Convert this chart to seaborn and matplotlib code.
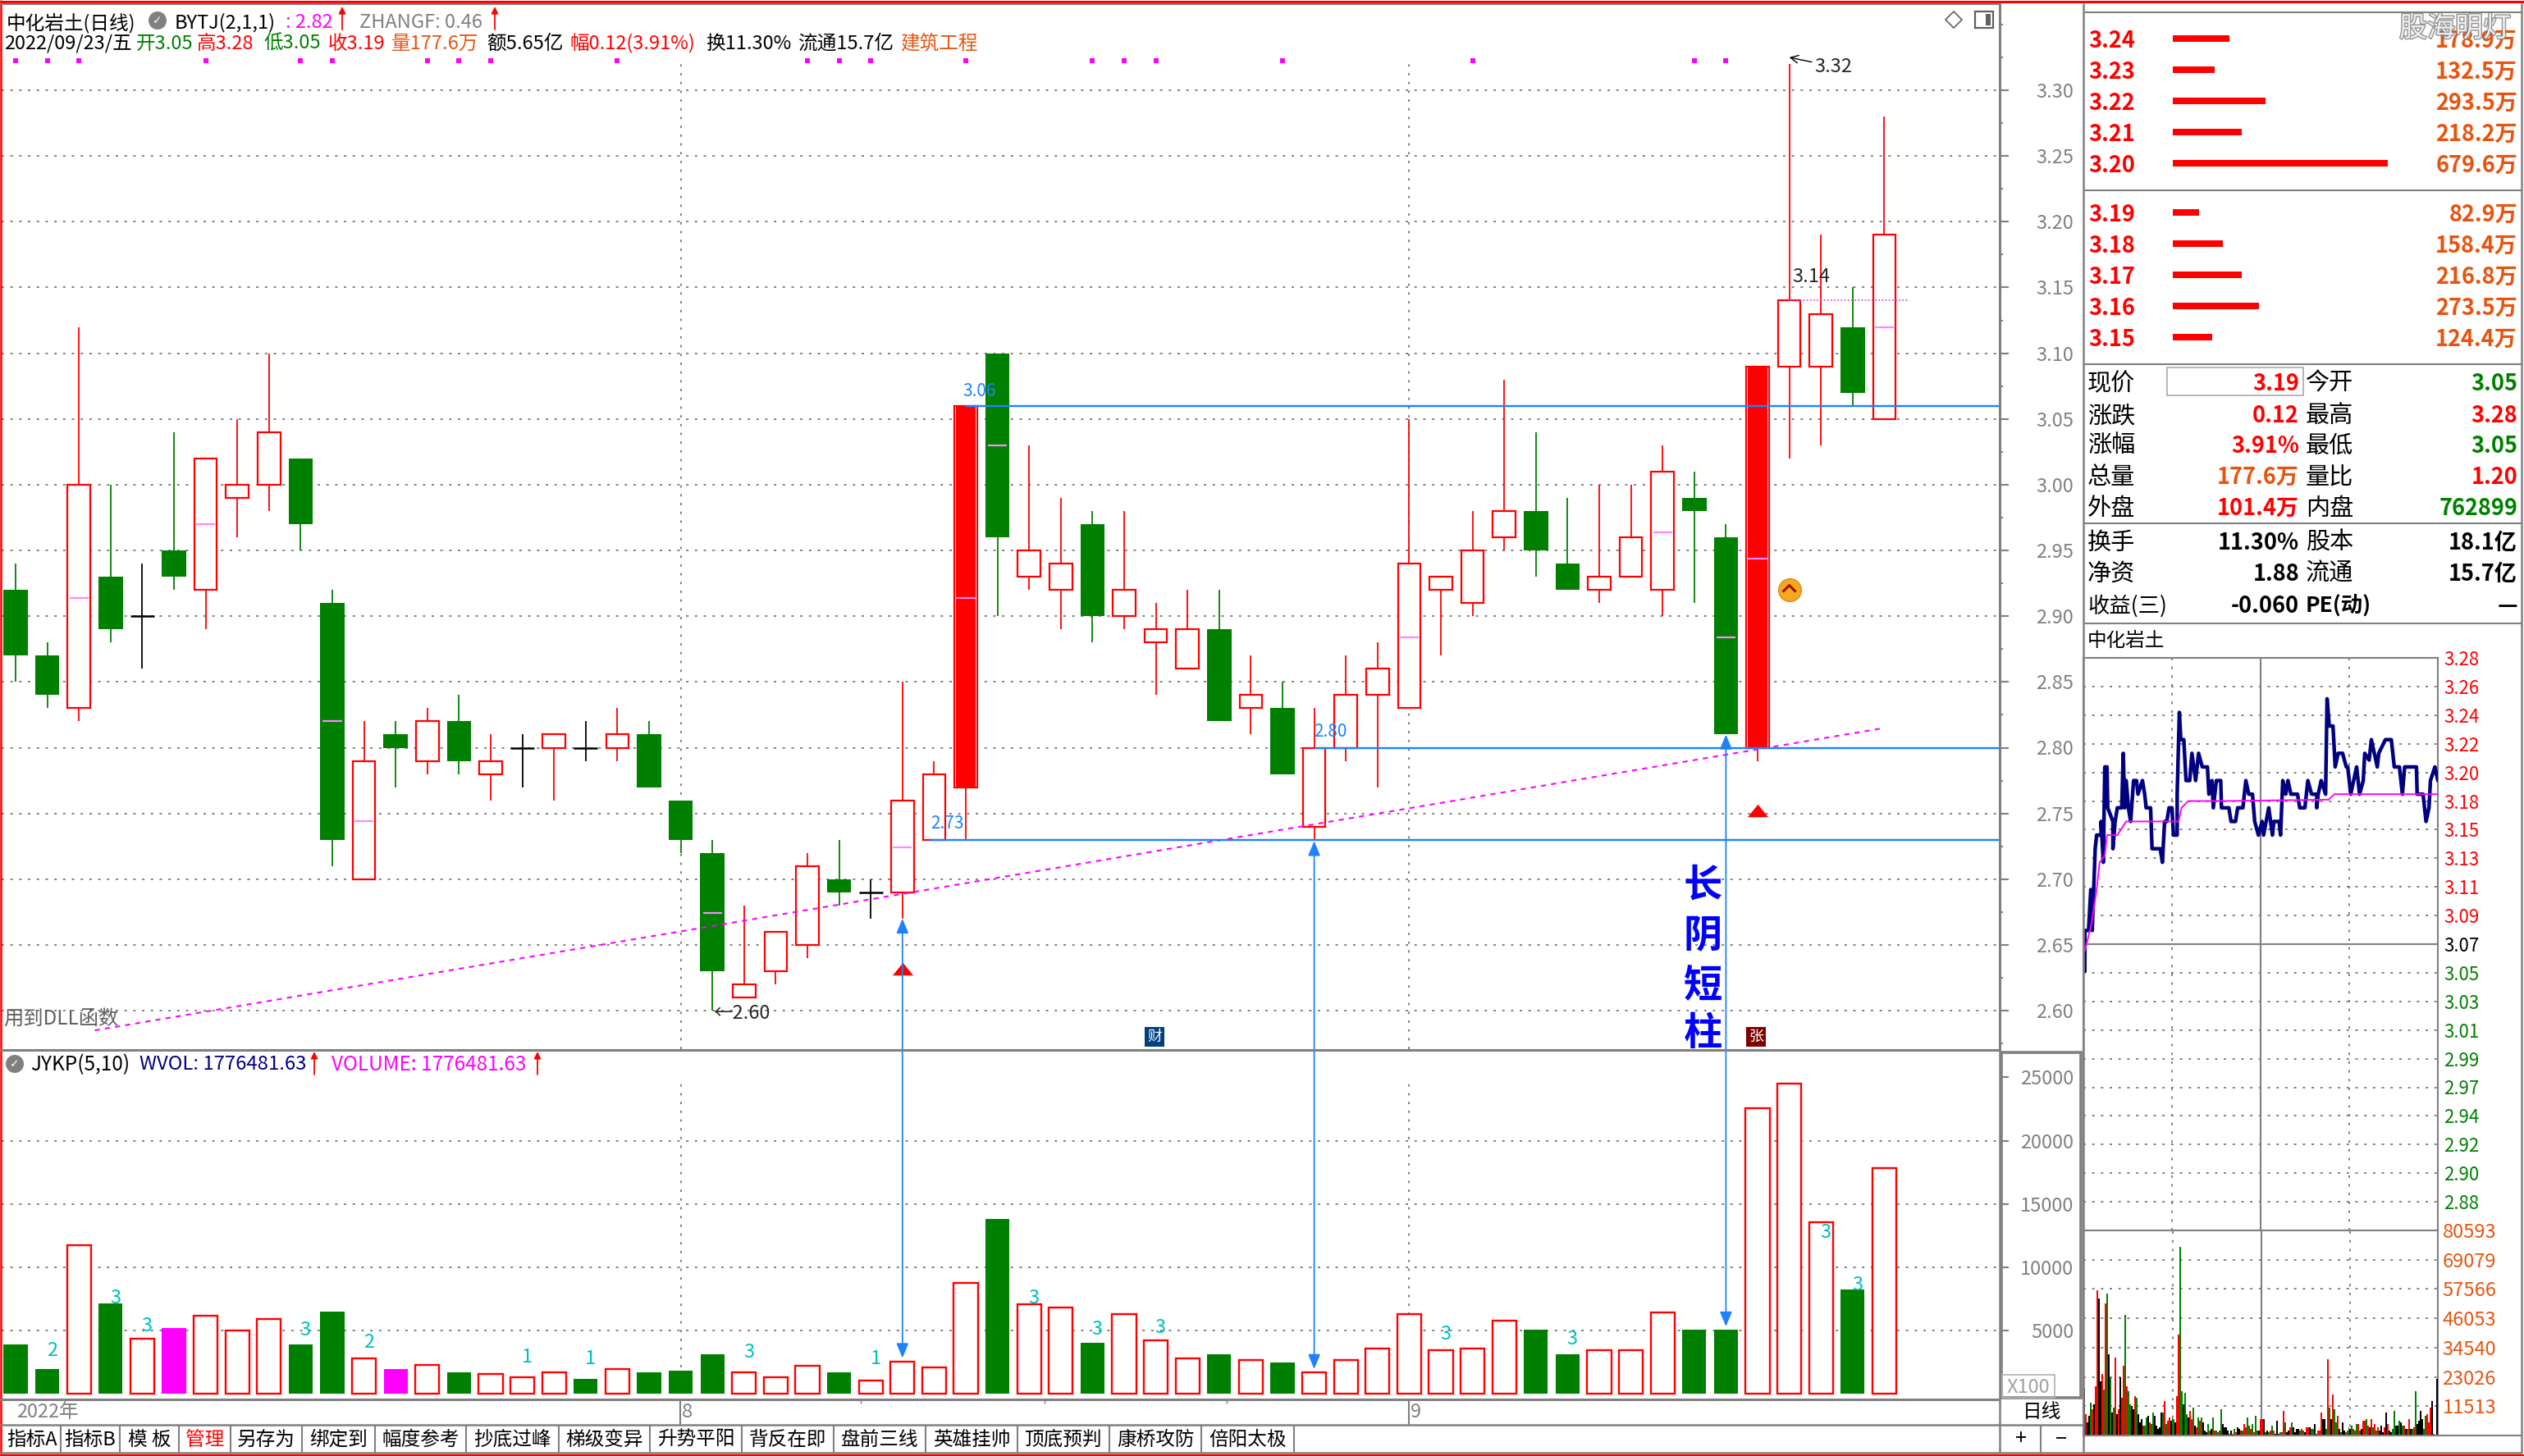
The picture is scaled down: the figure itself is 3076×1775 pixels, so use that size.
import numpy as np
import pandas as pd
import matplotlib
matplotlib.use('Agg')
import matplotlib.pyplot as plt
from matplotlib.patches import ConnectionPatch, Rectangle, Circle, Polygon
from matplotlib.path import Path
from matplotlib.ticker import MultipleLocator
import matplotlib.patheffects as pe
import seaborn as sns

sns.set_style('white')
plt.rcParams['font.family'] = ['Noto Sans CJK SC', 'DejaVu Sans']
plt.rcParams['axes.unicode_minus'] = False

W, H = 3076, 1775
RED, GREEN, ORANGE, GREY = '#ff0000', '#008000', '#e8540f', '#808080'
BLUE, MAG, PINK, NAVY = '#1e82ff', '#ff00ff', '#ff88ff', '#000080'

# daily candles
opens = [2.92, 2.87, 2.83, 2.93, 2.90, 2.95, 2.92, 2.99, 3.00, 3.02, 2.91, 2.70, 2.81, 2.79, 2.82,
         2.78, 2.80, 2.80, 2.80, 2.80, 2.81, 2.76, 2.72, 2.61, 2.63, 2.65, 2.70, 2.69, 2.69, 2.73,
         2.77, 3.10, 2.93, 2.92, 2.97, 2.90, 2.88, 2.86, 2.89, 2.83, 2.83, 2.74, 2.80, 2.84, 2.83,
         2.92, 2.91, 2.96, 2.98, 2.94, 2.92, 2.93, 2.92, 2.99, 2.96, 2.80, 3.09, 3.09, 3.12, 3.05]
highs = [2.94, 2.88, 3.12, 3.00, 2.94, 3.04, 3.02, 3.05, 3.10, 3.02, 2.92, 2.82, 2.82, 2.83, 2.84,
         2.81, 2.81, 2.81, 2.82, 2.83, 2.82, 2.76, 2.73, 2.68, 2.66, 2.72, 2.73, 2.70, 2.85, 2.79,
         3.06, 3.10, 3.03, 2.99, 2.98, 2.98, 2.91, 2.92, 2.92, 2.87, 2.85, 2.83, 2.87, 2.88, 3.05,
         2.93, 2.98, 3.08, 3.04, 2.99, 3.00, 3.00, 3.03, 3.01, 2.97, 3.09, 3.32, 3.19, 3.15, 3.28]
lows = [2.85, 2.83, 2.82, 2.88, 2.86, 2.92, 2.89, 2.96, 2.98, 2.95, 2.71, 2.70, 2.77, 2.78, 2.78,
        2.76, 2.77, 2.76, 2.79, 2.79, 2.77, 2.72, 2.60, 2.61, 2.62, 2.64, 2.68, 2.67, 2.67, 2.73,
        2.73, 2.90, 2.92, 2.89, 2.88, 2.89, 2.84, 2.86, 2.82, 2.81, 2.78, 2.73, 2.79, 2.77, 2.83,
        2.87, 2.90, 2.95, 2.93, 2.92, 2.91, 2.93, 2.90, 2.91, 2.81, 2.79, 3.02, 3.03, 3.06, 3.05]
closes = [2.87, 2.84, 3.00, 2.89, 2.90, 2.93, 3.02, 3.00, 3.04, 2.97, 2.73, 2.79, 2.80, 2.82, 2.79,
          2.79, 2.80, 2.81, 2.80, 2.81, 2.77, 2.73, 2.63, 2.62, 2.66, 2.71, 2.69, 2.69, 2.76, 2.78,
          3.06, 2.96, 2.95, 2.94, 2.90, 2.92, 2.89, 2.89, 2.82, 2.84, 2.78, 2.80, 2.84, 2.86, 2.94,
          2.93, 2.95, 2.98, 2.95, 2.92, 2.93, 2.96, 3.01, 2.98, 2.81, 3.09, 3.14, 3.13, 3.07, 3.19]
solid_days = [30, 55]
avg_days = [2, 6, 10, 11, 22, 28, 30, 31, 44, 52, 54, 55, 59]
avg_prices = [2.914, 2.97, 2.82, 2.744, 2.674, 2.724, 2.914, 3.03, 2.884, 2.964, 2.884, 2.944, 3.12]
signal_days = [0, 1, 2, 6, 9, 10, 13, 14, 15, 19, 25, 26, 27, 30, 34, 35, 36, 40, 46, 53, 54]
price_ticks = [2.60, 2.65, 2.70, 2.75, 2.80, 2.85, 2.90, 2.95, 3.00, 3.05, 3.10, 3.15, 3.20, 3.25, 3.30]

trend_x = [2.5, 59]
trend_y = [2.585, 2.815]
level_prices = [3.06, 2.80, 2.73]
level_start = [30, 41, 28.85]
level_text_x = [29.9, 41, 28.9]
level_text_y = [3.071, 2.812, 2.742]
month_days = [21, 44]
arrow_days = [28, 41, 54]
arrow_top = [2.67, 2.729, 2.81]
arrow_bottom = [2800, 1930, 5300]
triangle_days = [28, 55]
triangle_prices = [2.632, 2.752]

# daily volume
volumes = [3858, 1918, 11724, 7090, 4353, 5151, 6164, 4978, 5905, 3858, 6444, 2802, 1918, 2284, 1660,
           1509, 1250, 1638, 1142, 1897, 1660, 1789, 3082, 1638, 1250, 2155, 1660, 991, 2543, 2026,
           8750, 13815, 7069, 6810, 3987, 6293, 4224, 2802, 3082, 2672, 2435, 1638, 2672, 3578, 6293,
           3448, 3578, 5776, 5021, 3082, 3448, 3448, 6422, 5021, 5021, 22586, 24526, 13534, 8254, 17802]
volume_kind = list('ddudumuuuddumuduuududdduuuduuuu' 'duuduuududuuuuuuudduuudduuudu')
count_days = [1, 3, 4, 9, 11, 16, 18, 23, 27, 32, 34, 36, 45, 49, 57, 58]
count_text = ['2', '3', '3', '3', '2', '1', '1', '3', '1', '3', '3', '3', '3', '3', '3', '3']
count_y = [3405, 7565, 5366, 4978, 4052, 2888, 2759, 3254, 2759, 7565, 5086, 5216, 4698, 4310, 12737, 8578]
vol_ticks = [5000, 10000, 15000, 20000, 25000]

# order book
ask_prices = ['3.24', '3.23', '3.22', '3.21', '3.20']
ask_sizes = [178.9, 132.5, 293.5, 218.2, 679.6]
bid_prices = ['3.19', '3.18', '3.17', '3.16', '3.15']
bid_sizes = [82.9, 158.4, 216.8, 273.5, 124.4]

# intraday
minutes = [1, 1, 3.5, 5, 6, 7, 8, 9, 12, 12, 13.5, 14.5, 16, 16.5, 20, 20, 21.5, 23, 26, 27, 28, 29, 30.5, 32,
           34, 36, 37, 40, 41.5, 42.5, 45.5, 46.5, 52, 53.5, 55, 56.5, 58, 60, 61, 63.5, 63.5, 65, 66, 68,
           69.5, 72, 73.5, 76, 78, 80.5, 84, 85, 87, 88, 90, 93, 93.5, 98.5, 100, 103, 104.5, 108, 110, 112,
           114.5, 116, 118.5, 121, 122, 125.5, 128, 129, 132.5, 133.5, 135, 137, 138.5, 140.5, 145, 146.5,
           150, 152, 154.5, 158, 158, 159, 161, 164, 165, 166.5, 169, 170.5, 172.5, 175.5, 178, 179, 181,
           185, 187, 189.5, 190.5, 193.5, 195, 199, 200, 204.5, 208.5, 210.5, 214, 216, 217.5, 225.5, 226,
           230, 232, 234, 235, 238, 240]
intraday_price = [3.05, 3.08, 3.08, 3.11, 3.08, 3.11, 3.14, 3.15, 3.15, 3.16, 3.13, 3.20, 3.20, 3.17, 3.16, 3.14,
                  3.16, 3.17, 3.17, 3.21, 3.17, 3.19, 3.17, 3.16, 3.19, 3.19, 3.18, 3.19, 3.18, 3.17, 3.17, 3.14,
                  3.14, 3.13, 3.16, 3.16, 3.17, 3.17, 3.15, 3.15, 3.18, 3.24, 3.22, 3.22, 3.19, 3.19, 3.21, 3.19,
                  3.21, 3.20, 3.20, 3.18, 3.19, 3.17, 3.19, 3.19, 3.17, 3.17, 3.16, 3.16, 3.17, 3.17, 3.19, 3.18,
                  3.18, 3.16, 3.15, 3.16, 3.15, 3.17, 3.15, 3.16, 3.16, 3.15, 3.19, 3.18, 3.19, 3.18, 3.18, 3.17,
                  3.17, 3.19, 3.18, 3.18, 3.17, 3.18, 3.19, 3.18, 3.25, 3.23, 3.23, 3.20, 3.21, 3.21, 3.20, 3.20,
                  3.18, 3.20, 3.18, 3.19, 3.21, 3.205, 3.22, 3.20, 3.21, 3.22, 3.22, 3.20, 3.20, 3.18, 3.20, 3.20,
                  3.18, 3.18, 3.16, 3.17, 3.19, 3.20, 3.19]
avg_minutes = [1, 5.5, 9, 11, 14.5, 16, 23, 29, 36, 64.5, 66.5, 71, 96.5, 166, 170, 189.5, 206, 240]
avg_line = [3.065, 3.085, 3.11, 3.13, 3.135, 3.15, 3.15, 3.16, 3.16, 3.16, 3.17, 3.175, 3.175, 3.176, 3.18, 3.18,
            3.18, 3.18]
intraday_labels = ['3.28', '3.26', '3.24', '3.22', '3.20', '3.18', '3.15', '3.13', '3.11', '3.09', '3.07',
                   '3.05', '3.03', '3.01', '2.99', '2.97', '2.94', '2.92', '2.90', '2.88']
tick_vol = [18560, 8320, 5120, 7680, 12800, 10240, 12160, 19200, 56960, 53760,
            21120, 24320, 17920, 51840, 55680, 32000, 23040, 8960, 10880, 30720,
            8320, 10240, 23040, 14720, 27520, 47360, 19200, 17280, 12160, 11520,
            10240, 15360, 14720, 8320, 5120, 6400, 3840, 3840, 7040, 7680,
            5120, 4480, 8960, 7680, 3840, 2560, 3200, 8960, 8960, 13440,
            4480, 5760, 7040, 5760, 7040, 6400, 5120, 15360, 39680, 74240,
            17280, 12160, 16640, 8320, 7040, 9600, 6400, 10880, 3840, 3200,
            7040, 5760, 7040, 5120, 1920, 1280, 4480, 1920, 2560, 7040,
            1920, 1920, 1280, 1920, 10240, 4480, 3200, 3200, 1920, 640,
            1920, 640, 2560, 1280, 3200, 2560, 1920, 1920, 4480, 3200,
            7040, 3840, 2560, 4480, 1280, 7680, 1920, 1920, 6400,
            6400, 6400, 1280, 1920, 1280, 1920, 3840, 1920, 640, 5760,
            640, 1280, 1280, 9600, 5120, 1280, 1920, 3200, 5120, 3200,
            1280, 2560, 2560, 1920, 2560, 1920, 1280, 3200, 3200, 3200,
            2560, 2560, 4480, 640, 1920, 1920, 8960, 6400, 6400, 2560,
            30080, 10880, 6400, 16000, 10240, 5120, 7680, 2560, 1280, 5120,
            1920, 1280, 1920, 3200, 2560, 3840, 2560, 1920, 4480, 4480,
            1920, 2560, 5760, 5760, 6400, 3840, 3200, 6400, 3200, 4480,
            1920, 3200, 1920, 3840, 1280, 3200, 8960, 4480, 1920, 1280,
            2560, 9600, 3840, 3840, 5760, 5120, 3840, 3840, 2560, 2560,
            6400, 2560, 2560, 3200, 17280, 4480, 5760, 9600, 6400, 2560,
            7680, 8320, 5120, 10880, 13440, 640, 0, 22400]
tick_side = list('krkkgrkrrk' 'krgrgkgkgr' 'krkrrgrggk' 'krgkkkrggk' 'rggkkkkkgr' 'grrkggkrrg' 'gkggkrrgkr'
                 'grgkkkgrkg' 'rgrggkkkkg' 'krgrkkrgrr' 'ggrgrggkr'
                 'rkgkgrgrkk' 'kgrrgkkrgk' 'kkkgrgkrrk' 'ggkgrrrkkg' 'rgkrggrkgk' 'krggkgrggr' 'gkrrgrkrgr'
                 'grkkkrkrkk' 'ggkkgkgrkg' 'rkgrgkkkkg' 'grrrkrkk')
iv_labels = ['11513', '23026', '34540', '46053', '57566', '69079', '80593']
iv_ticks = [11513, 23026, 34540, 46053, 57566, 69079, 80593]

tabs = ['指标A', '指标B', '模 板', '管理', '另存为', '绑定到', '幅度参考', '抄底过峰', '梯级变异', '升势平阳',
        '背反在即', '盘前三线', '英雄挂帅', '顶底预判', '康桥攻防', '倍阳太极']


def px_axes(x0, y0, x1, y1, **kw):
    return fig.add_axes([x0 / W, 1 - y1 / H, (x1 - x0) / W, (y1 - y0) / H], **kw)


def day_of(px):
    return (px - 19) / 38.6


fig = plt.figure(figsize=(W / 100, H / 100), dpi=100, facecolor='white')

# price panel
ax = px_axes(2, 6, 2437, 1279)
ax.set_xlim(day_of(2), day_of(2437))
ax.set_ylim(3.30 - (1279 - 110) / 1603, 3.30 - (6 - 110) / 1603)
days = np.arange(len(opens))
o, h, l, c = map(np.array, (opens, highs, lows, closes))
colors = np.where(c > o, RED, np.where(c < o, GREEN, 'black'))
ax.vlines(days, l, h, colors=colors, lw=1.3, zorder=2)
top, bot = np.maximum(o, c), np.minimum(o, c)
up, dn, flat = c > o, c < o, c == o
ax.bar(days[up], (top - bot)[up], bottom=bot[up], width=0.72, color='white', edgecolor=RED, lw=1.6, zorder=3)
ax.bar(days[dn], (top - bot)[dn], bottom=bot[dn], width=0.77, color=GREEN, lw=0, zorder=3)
ax.hlines(o[flat], days[flat] - 0.38, days[flat] + 0.38, colors='black', lw=1.8, zorder=3)
ax.bar(solid_days, top[solid_days] - bot[solid_days], bottom=bot[solid_days], width=0.6, color=RED, lw=0, zorder=3)
ax.hlines(avg_prices, np.array(avg_days) - 0.3, np.array(avg_days) + 0.3, colors=PINK, lw=1.6, zorder=4)
sns.lineplot(x=trend_x, y=trend_y, color=MAG, lw=1.5, linestyle=(0, (3, 3)), ax=ax, zorder=5)
ax.hlines(level_prices, level_start, day_of(2437), colors=BLUE, lw=1.7, zorder=5)
ax.hlines(3.14, 56, 59.8, colors='#d040d0', lw=1.2, linestyles=(0, (1, 1.5)), zorder=5)
ax.vlines(month_days, ax.get_ylim()[0], 3.32, colors=GREY, lw=1.4, linestyles=(0, (1.5, 4)), zorder=1)
sns.scatterplot(x=signal_days, y=[3.3225] * len(signal_days), marker='s', s=22, color=MAG, lw=0, ax=ax, zorder=5)
flat_triangle = Path([(-1, -0.62), (0, 0.62), (1, -0.62), (-1, -0.62)], closed=True)
ax.scatter(triangle_days, triangle_prices, marker=flat_triangle, s=324, color=RED, lw=0, zorder=6)
ax.scatter([56], [2.92], marker='o', s=400, color='#f6a821', edgecolor='#e88a10', lw=1, zorder=6)
chevron = Path([(-1, -0.5), (0, 0.5), (1, -0.5)])
ax.scatter([56], [2.921], marker=chevron, s=132, facecolor='none', edgecolor='#a01000', lw=2.2, zorder=7)
for x, y, s in zip(level_text_x, level_text_y, ['3.06', '2.80', '2.73']):
    ax.text(x, y, s, color=BLUE, fontsize=15, va='center', zorder=6)
ax.text(22.02, 2.598, '←2.60', fontsize=17, va='center', zorder=6)
ax.text(56.1, 3.158, '3.14', fontsize=17, va='center', zorder=6)
ax.annotate('3.32', xy=(56, 3.325), xytext=(22, -8), textcoords='offset points', fontsize=17, va='center',
            arrowprops=dict(arrowstyle='->', lw=1, color='black', shrinkA=0, shrinkB=0), zorder=6)
ax.yaxis.tick_right()
ax.set_yticks(price_ticks, [f'{p:.2f}' for p in price_ticks])
ax.yaxis.set_minor_locator(MultipleLocator(0.025))
ax.set_xticks([])
ax.tick_params(axis='y', which='major', right=True, length=8, width=1.5, color=GREY, labelcolor=GREY,
               labelsize=17, pad=57)
ax.tick_params(axis='y', which='minor', right=True, length=3, width=1.5, color=GREY)
for t in ax.get_yticklabels():
    t.set_ha('right')
ax.grid(axis='y', color=GREY, lw=1.4, linestyle=(0, (1.5, 4)))
ax.set_axisbelow(True)
for s in ('top', 'left', 'bottom'):
    ax.spines[s].set_visible(False)
ax.spines['right'].set_color(GREY)
ax.spines['right'].set_linewidth(2.2)

# volume panel
ax_v = px_axes(2, 1282, 2437, 1704)
vol_df = pd.DataFrame({'day': days, 'vol': volumes, 'kind': volume_kind})
kind_order = ['u', 'd', 'm']
sns.barplot(data=vol_df, x='day', y='vol', hue='kind', hue_order=kind_order,
            palette={'u': 'white', 'd': GREEN, 'm': MAG}, dodge=False, width=0.76, saturation=1,
            legend=False, lw=0, ax=ax_v, zorder=3)
for bar in ax_v.containers[0]:
    bar.set_edgecolor(RED)
    bar.set_linewidth(1.7)
ax_v.set_xlim(day_of(2), day_of(2437))
ax_v.set_ylim((1698.7 - 1704) * 64.9, (1698.7 - 1282) * 64.9)
ax_v.hlines(vol_ticks[:4], ax_v.get_xlim()[0], ax_v.get_xlim()[1], colors=GREY, lw=1.4,
            linestyles=(0, (1.5, 4)), zorder=1)
ax_v.vlines(month_days, 0, 24700, colors=GREY, lw=1.4, linestyles=(0, (1.5, 4)), zorder=1)
for d, s, y in zip(count_days, count_text, count_y):
    ax_v.text(d + 0.15, y, s, color='#00bfc0', fontsize=17, ha='center', va='center', zorder=5)
ax_v.yaxis.tick_right()
ax_v.set_yticks(vol_ticks, [str(v) for v in vol_ticks])
ax_v.yaxis.set_minor_locator(MultipleLocator(2500))
ax_v.set_xticks([])
ax_v.set_xlabel('')
ax_v.set_ylabel('')
ax_v.tick_params(axis='y', which='major', right=True, length=8, width=1.5, color=GREY, labelcolor=GREY,
                 labelsize=17, pad=57)
ax_v.tick_params(axis='y', which='minor', right=True, length=3, width=1.5, color=GREY)
for t in ax_v.get_yticklabels():
    t.set_ha('right')
sns.despine(ax=ax_v, left=True, bottom=True, top=True, right=True)

# double arrows across both panels
for d, pt, vb in zip(arrow_days, arrow_top, arrow_bottom):
    fig.add_artist(ConnectionPatch(xyA=(d, pt), coordsA=ax.transData, xyB=(d, vb), coordsB=ax_v.transData,
                                   arrowstyle='<|-|>,head_length=0.6,head_width=0.25', mutation_scale=18,
                                   color=BLUE, lw=1.3, shrinkA=0, shrinkB=0, zorder=8))

# order book
ax_ask = px_axes(2648, 28, 2910, 218)
ax_bid = px_axes(2648, 240, 2910, 430)
for a, labels, sizes in ((ax_ask, ask_prices, ask_sizes), (ax_bid, bid_prices, bid_sizes)):
    sns.barplot(x=sizes, y=labels, orient='h', color=RED, saturation=1, width=0.21, lw=0, ax=a)
    a.set_xlim(0, 679.6)
    a.axis('off')

# intraday
ax_i = px_axes(2539, 802, 2971, 1500)
ax_i.set_xlim(0, 240)
ax_i.set_ylim(2.86, 3.28)
grid_p = np.linspace(3.28, 2.86, 21)[:-1]
ax_i.set_yticks(grid_p, intraday_labels)
ax_i.yaxis.tick_right()
ax_i.set_xticks([])
ax_i.tick_params(axis='y', length=0, labelsize=16, pad=5)
for k, t in enumerate(ax_i.get_yticklabels()):
    t.set_color(RED if k < 10 else ('black' if k == 10 else GREEN))
ax_i.grid(axis='y', color=GREY, lw=1.4, linestyle=(0, (1.5, 4)))
ax_i.set_axisbelow(True)
ax_i.vlines([60, 180], 2.86, 3.28, colors=GREY, lw=1.4, linestyles=(0, (1.5, 4)), zorder=1)
ax_i.vlines(120, 2.86, 3.28, colors=GREY, lw=1.5, zorder=1)
ax_i.hlines(3.07, 0, 240, colors=GREY, lw=1.5, zorder=1)
sns.lineplot(x=minutes, y=intraday_price, color=NAVY, lw=3.2, sort=False, estimator=None, ax=ax_i, zorder=3)
sns.lineplot(x=avg_minutes, y=avg_line, color=MAG, lw=1.4, sort=False, estimator=None, ax=ax_i, zorder=4)
for s in ax_i.spines.values():
    s.set_color(GREY)
    s.set_linewidth(1.5)

ax_iv = px_axes(2539, 1500, 2971, 1750)
iv_df = pd.DataFrame({'n': np.arange(len(tick_vol)), 'v': tick_vol, 'side': tick_side})
sns.barplot(data=iv_df, x='n', y='v', hue='side', hue_order=['r', 'g', 'k'],
            palette={'r': RED, 'g': GREEN, 'k': 'black'}, dodge=False, width=1, saturation=1, legend=False,
            lw=0, antialiased=False, ax=ax_iv, zorder=3)
ax_iv.set_xlim(-0.5, len(tick_vol) - 0.5)
ax_iv.set_ylim(0, 80593)
ax_iv.set_xticks([])
ax_iv.set_xlabel('')
ax_iv.set_ylabel('')
ax_iv.yaxis.tick_right()
ax_iv.set_yticks(iv_ticks, iv_labels)
ax_iv.tick_params(axis='y', length=0, labelsize=17, labelcolor=ORANGE, pad=4)
ax_iv.grid(axis='y', color=GREY, lw=1.4, linestyle=(0, (1.5, 4)))
ax_iv.set_axisbelow(True)
ax_iv.vlines([54.25, 162.75], 0, 80593, colors=GREY, lw=1.4, linestyles=(0, (1.5, 4)), zorder=1)
ax_iv.vlines(108.5, 0, 80593, colors=GREY, lw=1.5, zorder=1)
for s in ax_iv.spines.values():
    s.set_color(GREY)
    s.set_linewidth(1.5)

# window chrome and text, pixel coordinates
ov = fig.add_axes([0, 0, 1, 1], zorder=10, facecolor='none')
ov.set_xlim(0, W)
ov.set_ylim(H, 0)
ov.axis('off')


def put(x, y, s, size=16, color='black', ha='left', weight='normal', **kw):
    return ov.text(x, y + 3, s, fontsize=size, color=color, ha=ha, va='center', fontweight=weight, **kw)


def hl(y, x0, x1, lw=1.5, color=GREY):
    ov.plot([x0, x1], [y, y], color=color, lw=lw, solid_capstyle='butt')


def vl(x, y0, y1, lw=1.5, color=GREY):
    ov.plot([x, x], [y0, y1], color=color, lw=lw, solid_capstyle='butt')


hl(1.5, 0, W, 2.2, RED)
hl(1773.5, 0, W, 2.2, RED)
vl(1, 0, H, 1.8, RED)
hl(4.5, 0, 2438, 1.6)
hl(1280, 0, 2438, 2.2)
hl(1706, 0, 2438, 2.2)
hl(1737, 0, 2539, 1.8)
hl(1771, 0, 3074, 1.8)
vl(2437, 4, 1771, 1.8)
vl(2539, 4, 1771, 1.8)
vl(3073, 4, 1771, 1.8)
hl(15, 2539, 3074)
hl(232, 2539, 3074)
hl(444, 2539, 3074)
hl(638, 2539, 3074)
hl(760, 2539, 3074)
hl(1750, 2539, 3074)
ov.add_patch(Rectangle((2439, 1283), 97, 421, fc='none', ec=GREY, lw=2.6))
ov.add_patch(Rectangle((2440, 1676), 64, 28, fc='none', ec='#b0b0b0', lw=1.2))
put(2472, 1688, 'X100', 17, '#a0a0a0', 'center')
put(2488, 1719, '日线', 17, 'black', 'center')
vl(2487, 1737, 1771)
put(2463, 1751, '+', 18, 'black', 'center')
put(2512, 1751, '−', 18, 'black', 'center')

# header lines
put(8, 25, '中化岩土(日线)', 17)
ov.add_patch(Circle((192, 25), 11, fc=GREY, ec='none'))
put(192, 22, '✓', 10, 'white', 'center', family='DejaVu Sans')
put(213, 25, 'BYTJ(2,1,1)', 17)
put(348, 25, ': 2.82', 17, MAG)
put(438, 25, 'ZHANGF: 0.46', 17, GREY)
for ax0 in (417, 603):
    ov.annotate('', xy=(ax0, 8), xytext=(ax0, 36), arrowprops=dict(arrowstyle='-|>', color=RED, lw=1.3, shrinkA=0,
                                                                   shrinkB=0, mutation_scale=12))
header2 = [(5, '2022/09/23/五', 'black'), (166, '开3.05', GREEN), (240, '高3.28', RED), (321, '低3.05', GREEN),
           (400, '收3.19', RED), (477, '量177.6万', ORANGE), (593, '额5.65亿', 'black'),
           (695, '幅0.12(3.91%)', RED), (860, '换11.30%', 'black'), (972, '流通15.7亿', 'black'),
           (1097, '建筑工程', ORANGE)]
for x, s, col in header2:
    put(x, 50, s, 17, col)
ov.add_patch(Polygon([(2381, 14), (2391, 24), (2381, 34), (2371, 24)], fc='none', ec='#606060', lw=1.2))
ov.add_patch(Rectangle((2407, 14), 22, 20, fc='white', ec='#606060', lw=1.6))
ov.add_patch(Rectangle((2420, 17), 6, 14, fc='#606060', ec='none'))

put(4, 1239, '用到DLL函数', 17.5, '#606060')
put(2075, 1077, '长', 34, '#0000ff', 'center', 'bold')
put(2075, 1138, '阴', 34, '#0000ff', 'center', 'bold')
put(2075, 1198, '短', 34, '#0000ff', 'center', 'bold')
put(2075, 1257, '柱', 34, '#0000ff', 'center', 'bold')
put(1407, 1261, '财', 13, 'white', 'center', bbox=dict(fc='#004080', ec='none', pad=2.5))
put(2140, 1261, '张', 13, 'white', 'center', bbox=dict(fc='#800000', ec='none', pad=2.5))

# volume header
ov.add_patch(Circle((18, 1297), 11, fc=GREY, ec='none'))
put(18, 1294, '✓', 10, 'white', 'center', family='DejaVu Sans')
put(37, 1295, 'JYKP(5,10)', 17.5)
put(170, 1295, 'WVOL: 1776481.63', 17.2, NAVY)
put(404, 1295, 'VOLUME: 1776481.63', 17.5, MAG)
for ax0 in (383, 655):
    ov.annotate('', xy=(ax0, 1282), xytext=(ax0, 1310), arrowprops=dict(arrowstyle='-|>', color=RED, lw=1.3, shrinkA=0,
                                                                        shrinkB=0, mutation_scale=12))

# date strip
put(20, 1719, '2022年', 17, GREY)
vl(829, 1706, 1737)
put(831, 1719, '8', 17, GREY)
vl(1717, 1706, 1737)
put(1719, 1719, '9', 17, GREY)
for x in (1049, 1273, 1495):
    vl(x, 1706, 1711, 1)

# tab bar
tab_edges = [4, 74, 146, 218, 281, 368, 457, 568, 681, 792, 904, 1016, 1128, 1240, 1352, 1464, 1577]
for k, name in enumerate(tabs):
    put((tab_edges[k] + tab_edges[k + 1]) / 2, 1752, name, 17, RED if name == '管理' else 'black', 'center')
    vl(tab_edges[k + 1], 1737, 1771)

# quote panel
for k, (p, s) in enumerate(zip(ask_prices, ask_sizes)):
    put(2545, 47 + 38 * k, p, 19.5, RED, weight='bold')
    put(3068, 47 + 38 * k, f'{s:.1f}万', 19.5, ORANGE, 'right', 'bold')
for k, (p, s) in enumerate(zip(bid_prices, bid_sizes)):
    put(2545, 259 + 38 * k, p, 19.5, RED, weight='bold')
    put(3068, 259 + 38 * k, f'{s:.1f}万', 19.5, ORANGE, 'right', 'bold')
ov.add_patch(Rectangle((2641, 448), 166, 34, fc='none', ec='#b0b0b0', lw=1.3))
quote_rows = [(465, '现价', '3.19', RED, '今开', '3.05', GREEN), (504, '涨跌', '0.12', RED, '最高', '3.28', RED),
              (541, '涨幅', '3.91%', RED, '最低', '3.05', GREEN), (579, '总量', '177.6万', ORANGE, '量比', '1.20', RED),
              (617, '外盘', '101.4万', RED, '内盘', '762899', GREEN),
              (659, '换手', '11.30%', 'black', '股本', '18.1亿', 'black'),
              (697, '净资', '1.88', 'black', '流通', '15.7亿', 'black'),
              (736, '收益(三)', '-0.060', 'black', 'PE(动)', '—', 'black')]
for y, a, b, bc, d, e, ec in quote_rows:
    put(2544, y, a, 21 if len(a) == 2 else 19)
    put(2802, y, b, 19.5, bc, 'right', 'bold')
    put(2810, y, d, 21 if len(d) == 2 else 19, weight='normal' if len(d) == 2 else 'bold')
    put(3068, y, e, 19.5, ec, 'right', 'bold')
put(2544, 779, '中化岩土', 17)
put(2992, 32, '股海明灯', 24.5, 'white', 'center', alpha=0.85,
    path_effects=[pe.withStroke(linewidth=2, foreground='#808080')])

fig.savefig('out.png', dpi=100)
